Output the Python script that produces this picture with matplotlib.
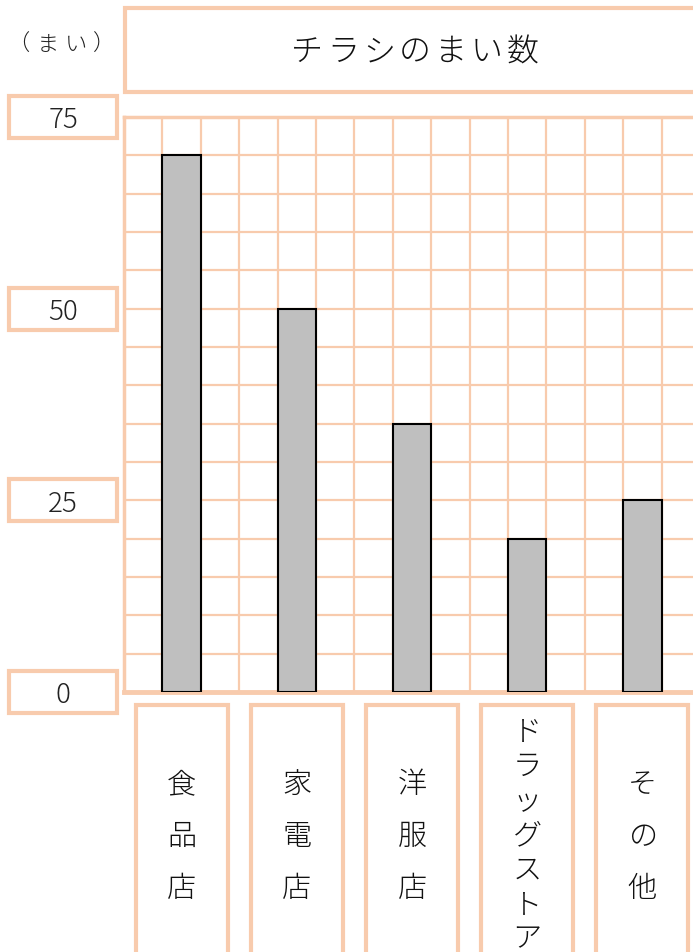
import matplotlib
matplotlib.use("Agg")
import matplotlib.pyplot as plt
from matplotlib.patches import Rectangle
from matplotlib.transforms import blended_transform_factory

plt.rcParams['font.family'] = ['Noto Sans CJK JP', 'DejaVu Sans']

# data
categories = ['食品店', '家電店', '洋服店', 'ドラッグストア', 'その他']
values = [70, 50, 35, 20, 25]
bar_pos = [1.5, 4.5, 7.5, 10.5, 13.5]
yticks = [0, 25, 50, 75]
title = 'チラシのまい数'
unit = '（まい）'

peach = '#F8CBAD'
W, H = 693, 953
fig = plt.figure(figsize=(W / 100, H / 100), dpi=100)

# main grid area (pixels: left 124, top 118, bottom 692)
ax = fig.add_axes([124 / W, (H - 693) / H, 576 / W, 575 / H])
ax.set_xlim(0, 15)
ax.set_ylim(0, 75)
for v in range(0, 76, 5):
    ax.axhline(v, color=peach, lw=1.6, zorder=1)
for c in range(0, 16):
    ax.axvline(c, color=peach, lw=1.6, zorder=1)
ax.bar(bar_pos, values, width=1, color='#BFBFBF', edgecolor='black', lw=1.5, zorder=3)
ax.set_xticks([])
ax.set_yticks([])
ax.spines['right'].set_visible(False)
for s in ['left', 'top', 'bottom']:
    ax.spines[s].set_color(peach)
    ax.spines[s].set_linewidth(2.5)
ax.spines['bottom'].set_linewidth(3.5)

# y labels in boxes
tr_y = blended_transform_factory(fig.transFigure, ax.transData)
bh = 42 / 574 * 75
for v in yticks:
    ax.add_patch(Rectangle((9 / W, v - bh / 2), 108 / W, bh, transform=tr_y,
                           fc='white', ec=peach, lw=3, clip_on=False, zorder=5))
    ax.text(63 / W, v - 0.3, str(v), transform=tr_y, ha='center', va='center',
            fontsize=20, fontweight='light', color='#222222', zorder=6)

# category boxes
tr_x = blended_transform_factory(ax.transData, fig.transFigure)
bw = 92 / 38.4
for x, lab in zip(bar_pos, categories):
    ax.add_patch(Rectangle((x - bw / 2, -0.05), bw, (H - 706) / H + 0.05, transform=tr_x,
                           fc='white', ec=peach, lw=3, clip_on=False, zorder=5))
    n = len(lab)
    step = 52 if n <= 3 else 34.5
    yc = 837 if n <= 3 else 836
    for i, ch in enumerate(lab):
        py = yc + (i - (n - 1) / 2) * step
        ax.text(x, (H - py) / H, ch, transform=tr_x, ha='center', va='center',
                fontsize=21, fontweight='light', color='#111111', zorder=6)

# title box
fig.patches.append(Rectangle((125 / W, (H - 93) / H), 580 / W, 84 / H, transform=fig.transFigure,
                             fc='white', ec=peach, lw=3, figure=fig))
for i, ch in enumerate(title):
    fig.text((307 + i * 36) / W, (H - 52) / H, ch, ha='center', va='center',
             fontsize=23, fontweight='light', color='#111111')
for px, ch in zip([18, 48, 76, 104], unit):
    fig.text(px / W, (H - 45) / H, ch, ha='center', va='center', fontsize=16,
             fontweight='light', color='#222222')

fig.savefig('out.png', dpi=100)
